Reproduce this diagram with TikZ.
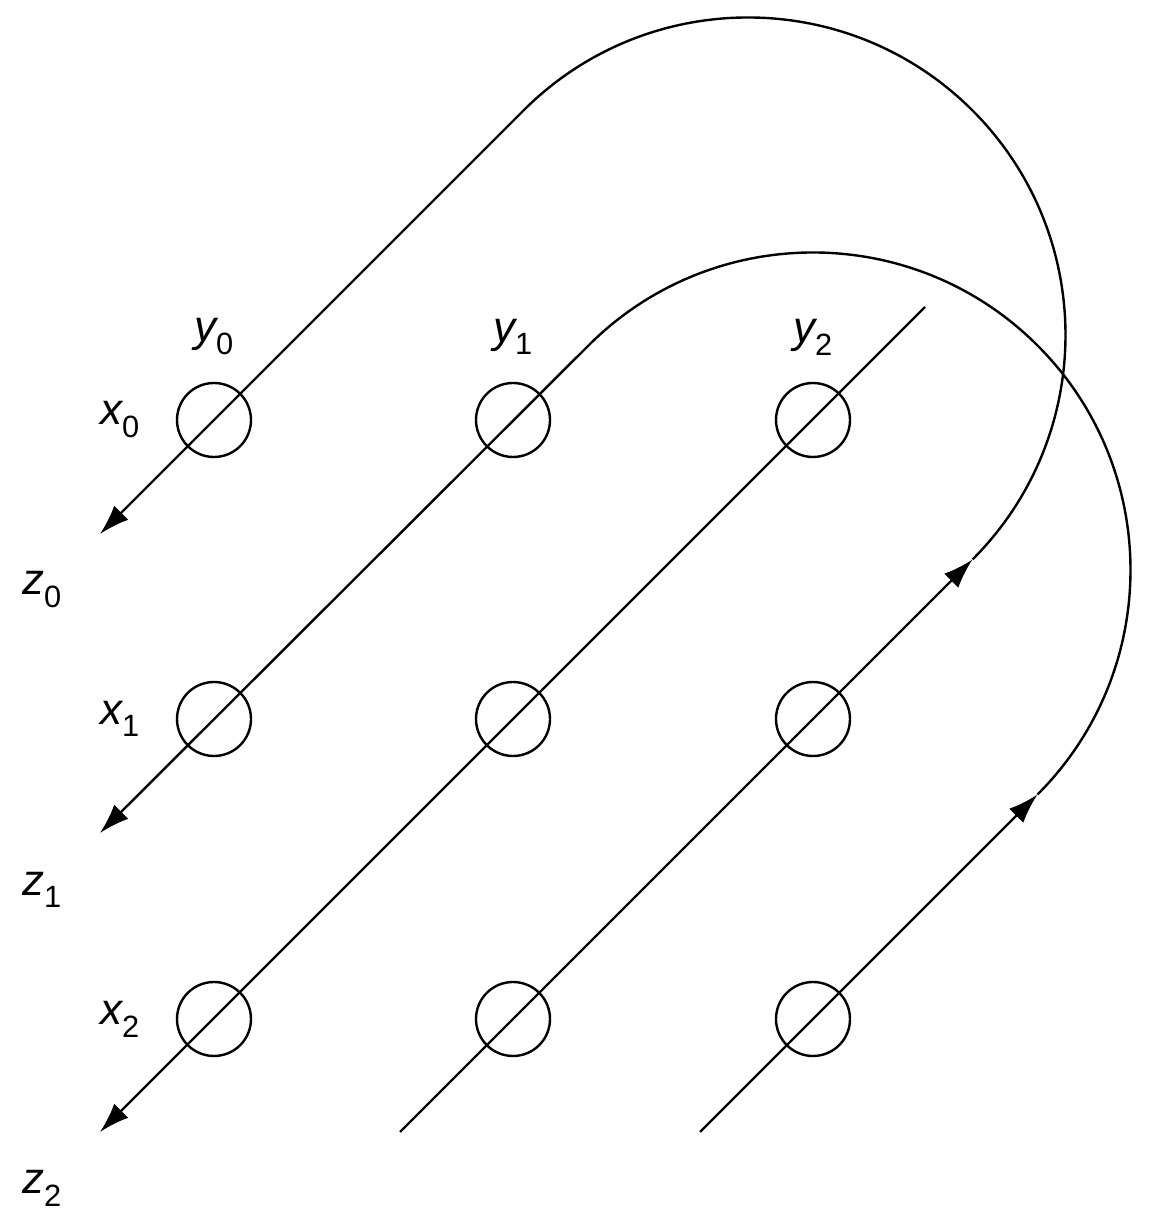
\documentclass[tikz,border=0pt]{standalone}
\usepackage{fontspec}
\setmainfont{Liberation Sans}
\usetikzlibrary{arrows.meta}
\begin{document}
\begin{tikzpicture}[x=1pt,y=1pt,line width=2.4pt,
  cell/.style={circle,draw,minimum size=74pt,inner sep=0pt},
  lbl/.style={font=\fontsize{44}{50}\selectfont\itshape,inner sep=0pt},
  tip/.style={-{Latex[length=30pt,width=20pt]}}]
\useasboundingbox (0,0) rectangle (1161,1226);
% circles (image y -> 1226 - y)
\foreach \i/\x in {0/214,1/513,2/813}{
  \foreach \j/\y in {0/806,1/507,2/207}{
    \node[cell] (c\j\i) at (\x,\y) {};
  }}
\node[lbl] (y0) at (214,889) {y\textsubscript{\upshape 0}};
\node[lbl] (y1) at (513,889) {y\textsubscript{\upshape 1}};
\node[lbl] (y2) at (813,889) {y\textsubscript{\upshape 2}};
\node[lbl] (x0) at (120,806) {x\textsubscript{\upshape 0}};
\node[lbl] (x1) at (120,507) {x\textsubscript{\upshape 1}};
\node[lbl] (x2) at (120,207) {x\textsubscript{\upshape 2}};
\node[lbl] (z0) at (42,636) {z\textsubscript{\upshape 0}};
\node[lbl] (z1) at (42,336) {z\textsubscript{\upshape 1}};
\node[lbl] (z2) at (42,38) {z\textsubscript{\upshape 2}};
% endpoints
\coordinate (t0) at (100,692);
\coordinate (t1) at (100,393);
\coordinate (t2) at (100,94);
\coordinate (b1) at (400,94);
\coordinate (b2) at (700,94);
\coordinate (top) at (925,919);
\coordinate (e1) at (972.5,666.5);
\coordinate (e2) at (1037.5,431.5);
% straight line
\draw[tip] (top) -- (t2);
% loop 1
\draw[tip] (b1) -- (e1);
\draw[tip] (e1) arc[start angle=-45,end angle=135,radius=317.5] -- (t0);
% loop 2
\draw[tip] (b2) -- (e2);
\draw[tip] (e2) arc[start angle=-45,end angle=135,radius=317.5] -- (t1);
\end{tikzpicture}
\end{document}
